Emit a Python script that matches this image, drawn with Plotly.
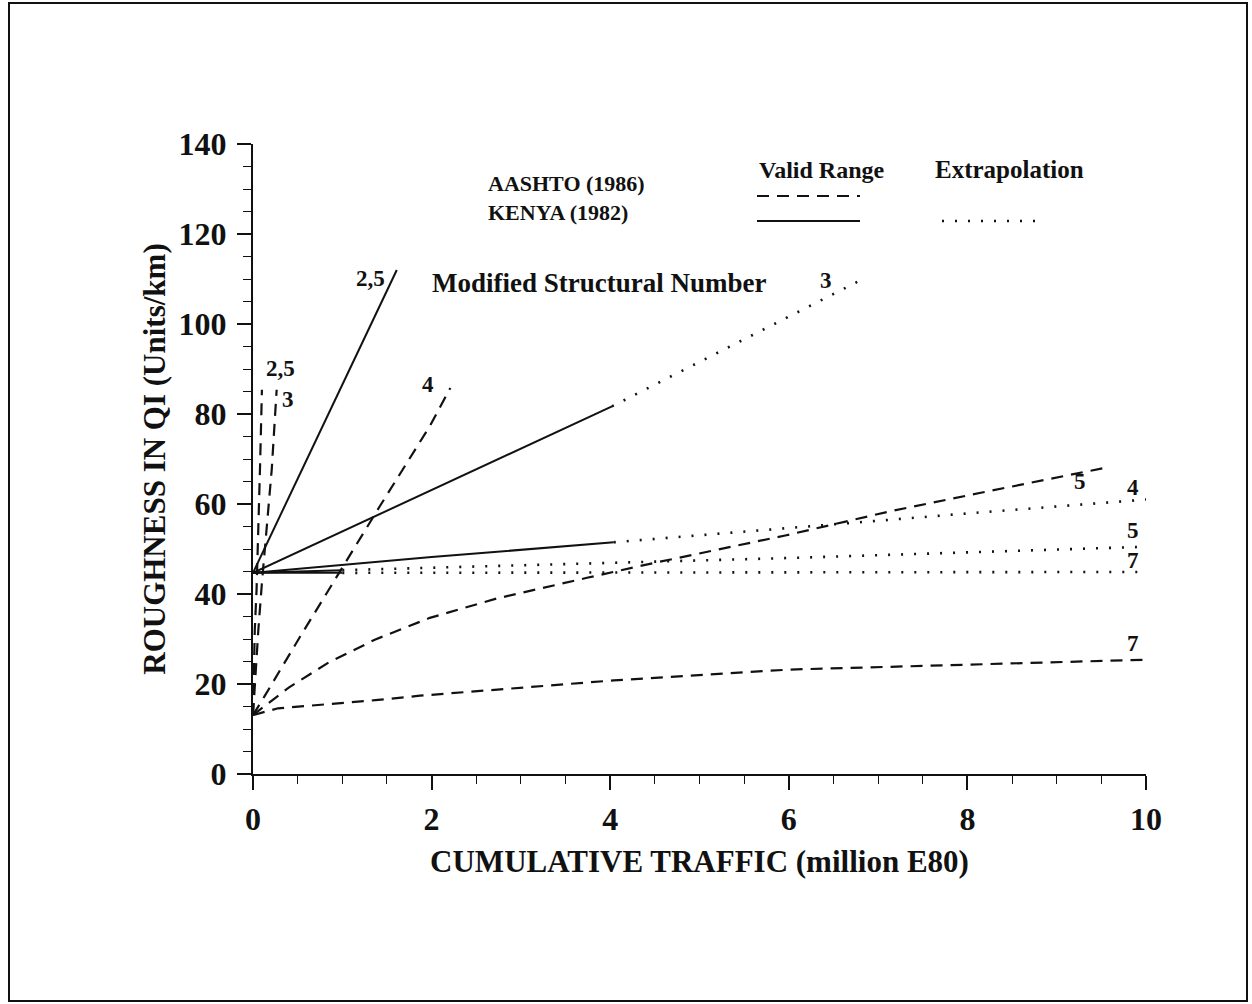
import plotly.graph_objects as go

# ---------------- data ----------------
# Kenya (1982) model, valid range (solid)
kenya_valid = {
    "2,5": ([0, 1.61], [44.7, 112.0]),
    "3": ([0, 4.02], [44.7, 81.7]),
    "4": ([0, 2.0, 4.04], [44.7, 48.2, 51.5]),
    "5": ([0, 1.0], [44.7, 45.3]),
    "7": ([0, 1.0], [44.7, 44.7]),
}
# Kenya (1982) model, extrapolation (dotted)
kenya_extra = {
    "3": ([4.02, 6.86], [81.7, 110.3]),
    "4": ([4.04, 6.0, 8.0, 10.0], [51.5, 54.7, 57.9, 61.0]),
    "5": ([1.0, 6.0, 10.0], [45.3, 48.0, 50.5]),
    "7": ([1.0, 10.0], [44.7, 44.9]),
}
# AASHTO (1986) model, valid range (dashed)
aashto_x_25 = [0, 0.01, 0.02, 0.04, 0.06, 0.078, 0.1]
aashto_y_25 = [13.1, 24.7, 32.1, 41.0, 52.8, 67.7, 85.4]
aashto_x_3 = [0, 0.035, 0.06, 0.1, 0.15, 0.21, 0.265]
aashto_y_3 = [13.1, 24.8, 32.1, 42.5, 54.3, 67.7, 85.4]
aashto_x_4 = [0, 0.13, 0.53, 1.03, 1.42, 1.98, 2.21]
aashto_y_4 = [13.1, 17.3, 30.6, 46.9, 59.5, 77.3, 85.8]
aashto_x_5 = [0, 0.4, 0.84, 1.37, 1.98, 2.73, 3.74, 4.49, 5.96, 7.14, 8.15, 9.53]
aashto_y_5 = [13.1, 19.2, 24.7, 29.9, 34.7, 39.0, 43.6, 46.9, 53.0, 58.4, 62.5, 68.0]
aashto_x_7 = [0, 0.28, 1.37, 1.87, 4.04, 6.0, 8.0, 10.0]
aashto_y_7 = [13.1, 14.6, 16.4, 17.4, 20.8, 23.2, 24.3, 25.4]

# structural-number labels written beside the curves: (text, x, y)
curve_labels = [
    ("2,5", 1.32, 110.1),
    ("2,5", 0.31, 90.1),
    ("3", 0.39, 83.2),
    ("4", 1.96, 86.6),
    ("3", 6.42, 109.7),
    ("5", 9.26, 65.0),
    ("4", 9.85, 63.7),
    ("5", 9.85, 54.2),
    ("7", 9.85, 47.4),
    ("7", 9.85, 29.0),
]

x_ticks = [0, 2, 4, 6, 8, 10]
y_ticks = [0, 20, 40, 60, 80, 100, 120, 140]

# ---------------- styles ----------------
FONT = "Liberation Serif"
BLACK = "#111111"
solid = dict(color=BLACK, width=2)
dashed = dict(color=BLACK, width=2.2, dash="12px,8px")
dotted = dict(color=BLACK, width=2.6, dash="2px,11px")

W, H = 1252, 1004
ML, MR, MT, MB = 253, 106, 144, 230
PW, PH = W - ML - MR, H - MT - MB


def px(xp):
    return (xp - ML) / PW


def py(yp):
    return (H - MB - yp) / PH


def bold(size):
    return dict(family=FONT, size=size, color=BLACK, weight="bold")


fig = go.Figure()

for name, (xs, ys) in kenya_valid.items():
    fig.add_trace(go.Scatter(x=xs, y=ys, mode="lines", line=solid,
                             name=f"Kenya SN {name}", showlegend=False))
for name, (xs, ys) in kenya_extra.items():
    fig.add_trace(go.Scatter(x=xs, y=ys, mode="lines", line=dotted,
                             name=f"Kenya SN {name} extrapolated", showlegend=False))
for name, xs, ys in [("2,5", aashto_x_25, aashto_y_25), ("3", aashto_x_3, aashto_y_3),
                     ("4", aashto_x_4, aashto_y_4), ("5", aashto_x_5, aashto_y_5),
                     ("7", aashto_x_7, aashto_y_7)]:
    fig.add_trace(go.Scatter(x=xs, y=ys, mode="lines", line=dashed,
                             name=f"AASHTO SN {name}", showlegend=False))

annotations = []
for text, x, y in curve_labels:
    annotations.append(dict(x=x, y=y, xref="x", yref="y", text=text, showarrow=False,
                            font=bold(23), xanchor="center", yanchor="middle"))

# key block: (text, x px, y px, size, anchor)
key_items = [
    ("Valid Range", 821, 170, 24, "center"),
    ("Extrapolation", 1009, 170, 25, "center"),
    ("AASHTO (1986)<br>KENYA (1982)", 486, 198, 22, "left"),
    ("Modified Structural Number", 599, 283, 27, "center"),
]
for text, xp, yp, size, anchor in key_items:
    annotations.append(dict(x=px(xp), y=py(yp), xref="paper", yref="paper", text=text,
                            showarrow=False, font=bold(size), align="left",
                            xanchor=anchor, yanchor="middle"))

shapes = [
    dict(type="line", xref="paper", yref="paper", x0=px(757), x1=px(860),
         y0=py(196), y1=py(196), line=dashed),
    dict(type="line", xref="paper", yref="paper", x0=px(757), x1=px(860),
         y0=py(221), y1=py(221), line=solid),
    dict(type="line", xref="paper", yref="paper", x0=px(942), x1=px(1046),
         y0=py(221), y1=py(221), line=dotted),
    # page frame
    dict(type="rect", xref="paper", yref="paper", x0=px(9), x1=px(1247),
         y0=py(1001), y1=py(3), line=dict(color=BLACK, width=2)),
]

fig.update_layout(
    width=W, height=H,
    margin=dict(l=ML, r=MR, t=MT, b=MB),
    paper_bgcolor="white", plot_bgcolor="white",
    showlegend=False,
    annotations=annotations,
    shapes=shapes,
    xaxis=dict(
        range=[0, 10], tickvals=x_ticks, ticktext=[str(v) for v in x_ticks],
        showgrid=False, zeroline=False, showline=True, linecolor=BLACK, linewidth=2,
        ticks="outside", ticklen=14, tickwidth=1.5, tickcolor=BLACK,
        tickfont=bold(32), ticklabelstandoff=2,
        minor=dict(dtick=0.5, ticks="outside", ticklen=8, tickwidth=1.2, tickcolor=BLACK),
        title=dict(text="CUMULATIVE TRAFFIC (million E80)", font=bold(31), standoff=14),
    ),
    yaxis=dict(
        range=[0, 140], tickvals=y_ticks, ticktext=[str(v) for v in y_ticks],
        showgrid=False, zeroline=False, showline=True, linecolor=BLACK, linewidth=2,
        ticks="outside", ticklen=14, tickwidth=1.5, tickcolor=BLACK,
        tickfont=bold(32), ticklabelstandoff=4,
        minor=dict(dtick=5, ticks="outside", ticklen=8, tickwidth=1.2, tickcolor=BLACK),
        title=dict(text="ROUGHNESS IN QI (Units/km)", font=bold(31), standoff=4),
    ),
)

fig.write_html("out.html")
